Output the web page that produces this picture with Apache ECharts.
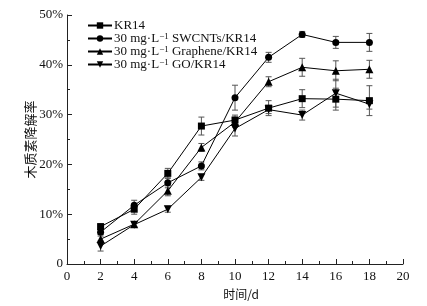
<!DOCTYPE html>
<html>
<head>
<meta charset="utf-8">
<script src="https://cdn.jsdelivr.net/npm/echarts@6/dist/echarts.min.js"></script>
<style>
  html, body { margin: 0; padding: 0; background: #fff; }
  #chart { width: 427px; height: 306px; }
</style>
</head>
<body>
<div id="chart"></div>
<script>
// 数据
const days = [2, 4, 6, 8, 10, 12, 14, 16, 18]
const kr14 = [7.5, 11.0, 18.2, 27.7, 28.9, 31.3, 33.2, 33.1, 32.8]
const kr14Err = [0.6, 1.0, 1.0, 1.8, 1.0, 1.5, 1.8, 2.2, 3.0]
const swcnts = [6.4, 11.8, 16.3, 19.7, 33.4, 41.5, 46.1, 44.5, 44.5]
const swcntsErr = [0.5, 1.0, 1.0, 0.8, 2.5, 1.0, 0.6, 1.2, 1.8]
const graphene = [5.0, 8.0, 14.7, 23.4, 28.5, 36.6, 39.5, 38.8, 39.1]
const grapheneErr = [0.6, 0.5, 1.0, 0.8, 1.0, 1.0, 1.8, 2.0, 1.8]
const go = [3.6, 7.9, 11.0, 17.4, 27.2, 31.0, 29.9, 34.3, 32.1]
const goErr = [1.0, 0.5, 0.6, 0.6, 1.5, 0.8, 1.0, 2.8, 1.0]

const names = ['KR14', '30 mg·L{sup|−1} SWCNTs/KR14', '30 mg·L{sup|−1} Graphene/KR14', '30 mg·L{sup|−1} GO/KR14']
const serif = '"Liberation Serif", "DejaVu Serif", serif'

const chart = echarts.init(document.getElementById('chart'))

const lineSeries = (name, data, symbol, rotate) => ({
  name,
  type: 'line',
  data: days.map((d, i) => [d, data[i]]),
  symbol,
  symbolRotate: rotate,
  symbolSize: symbol === 'triangle' ? 8 : 7,
  lineStyle: { color: '#000', width: 1 },
  itemStyle: { color: '#000' },
  z: 3,
})

// 误差线
const errSeries = (data, err) => ({
  type: 'custom',
  silent: true,
  z: 2,
  data: days.map((d, i) => [d, data[i] - err[i], data[i] + err[i]]),
  renderItem: (params, api) => {
    const lo = api.coord([api.value(0), api.value(1)])
    const hi = api.coord([api.value(0), api.value(2)])
    const w = 3
    const style = { stroke: '#555', lineWidth: 1 }
    return {
      type: 'group',
      children: [
        { type: 'line', shape: { x1: lo[0], y1: lo[1], x2: hi[0], y2: hi[1] }, style },
        { type: 'line', shape: { x1: lo[0] - w, y1: lo[1], x2: lo[0] + w, y2: lo[1] }, style },
        { type: 'line', shape: { x1: hi[0] - w, y1: hi[1], x2: hi[0] + w, y2: hi[1] }, style },
      ],
    }
  },
})

const axisCommon = {
  axisLine: { lineStyle: { color: '#222', width: 1 } },
  axisTick: { inside: true, length: 5, lineStyle: { color: '#222' } },
  minorTick: { show: true, splitNumber: 2, length: 3, lineStyle: { color: '#222' } },
  splitLine: { show: false },
  axisLabel: { color: '#111', fontFamily: serif, fontSize: 13 },
}

const options = {
  animation: false,
  backgroundColor: '#fff',
  grid: { left: 67, right: 24, top: 15, bottom: 42 },
  legend: {
    data: names,
    orient: 'vertical',
    left: 82,
    top: 14,
    itemGap: 0,
    itemWidth: 24,
    itemHeight: 8,
    textStyle: {
      fontFamily: serif,
      fontSize: 13,
      lineHeight: 13,
      color: '#111',
      padding: [0, 0, 0, -3],
      rich: {
        sup: { fontFamily: serif, fontSize: 9, lineHeight: 9, color: '#111', verticalAlign: 'top', padding: [0, 0, 3, 0] },
      },
    },
  },
  xAxis: {
    type: 'value',
    min: 0,
    max: 20,
    interval: 2,
    name: '时间/d',
    nameLocation: 'middle',
    nameGap: 24,
    nameMoveOverlap: false,
    nameTextStyle: { fontFamily: '"Noto Sans CJK SC", sans-serif', fontSize: 12, color: '#111', padding: [0, 0, 0, 12] },
    ...axisCommon,
    axisLabel: { ...axisCommon.axisLabel, margin: 6 },
  },
  yAxis: {
    type: 'value',
    min: 0,
    max: 50,
    interval: 10,
    name: '木质素降解率',
    nameLocation: 'middle',
    nameGap: 30,
    nameMoveOverlap: false,
    nameTextStyle: { fontFamily: '"Noto Sans CJK SC", sans-serif', fontSize: 13, color: '#111' },
    ...axisCommon,
    axisLabel: { ...axisCommon.axisLabel, margin: 4, formatter: (v) => (v === 0 ? '0' : v + '%') },
  },
  series: [
    errSeries(kr14, kr14Err),
    errSeries(swcnts, swcntsErr),
    errSeries(graphene, grapheneErr),
    errSeries(go, goErr),
    lineSeries(names[0], kr14, 'rect', 0),
    lineSeries(names[1], swcnts, 'circle', 0),
    lineSeries(names[2], graphene, 'triangle', 0),
    lineSeries(names[3], go, 'triangle', 180),
  ],
}

chart.setOption(options, true)
</script>
</body>
</html>
